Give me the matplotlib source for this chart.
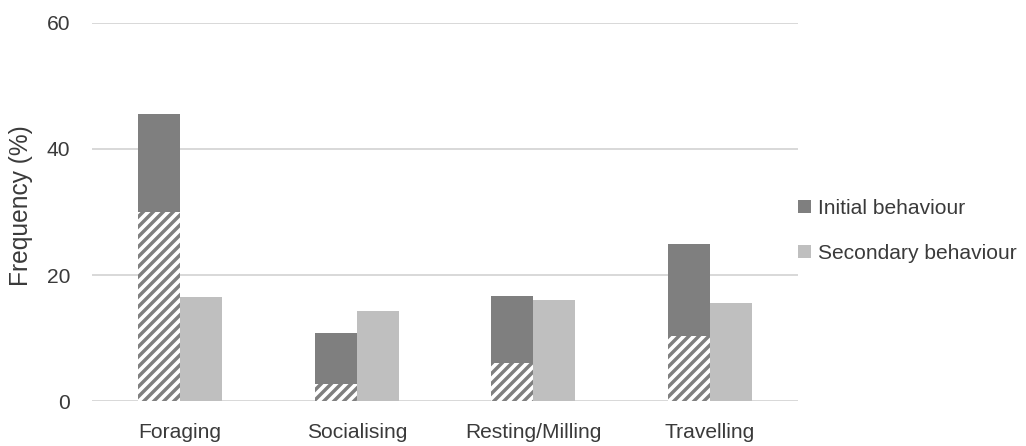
import matplotlib
matplotlib.use("Agg")
import matplotlib.pyplot as plt
from matplotlib.patches import Patch
import numpy as np

# Behaviour frequencies (%)
categories = ["Foraging", "Socialising", "Resting/Milling", "Travelling"]
initial = [45.6, 10.9, 16.7, 25.0]
initial_hatched = [30.0, 2.7, 6.1, 10.3]
secondary = [16.6, 14.3, 16.0, 15.5]
y_ticks = [0, 20, 40, 60]

DPI = 60
PX = 72.0 / DPI  # points per pixel

plt.rcParams["font.family"] = ["Liberation Sans", "DejaVu Sans"]
plt.rcParams["hatch.linewidth"] = 3.6 * PX

dark = "#7f7f7f"
light = "#bfbfbf"
grid = "#d9d9d9"
text_col = "#3a3a3a"

fig = plt.figure(figsize=(1026 / DPI, 446 / DPI), dpi=DPI)
ax = fig.add_axes([92 / 1026, 1 - 401.3 / 446, 706 / 1026, 378.6 / 446])

x = np.arange(len(categories))
w = 0.238

ax.bar(x - w / 2, initial, width=w, color=dark, linewidth=0, zorder=3)
ax.bar(x - w / 2, initial_hatched, width=w, color=dark, edgecolor="white",
       hatch="//", linewidth=0, zorder=4)
ax.bar(x + w / 2, secondary, width=w, color=light, linewidth=0, zorder=3)

ax.set_xlim(-0.5, len(categories) - 0.5)
ax.set_ylim(0, 60)
ax.set_yticks(y_ticks)
ax.set_xticks(x)
ax.set_xticklabels(categories)

for s in ax.spines.values():
    s.set_visible(False)
ax.yaxis.grid(True, color=grid, linewidth=2 * PX, zorder=0)
ax.set_axisbelow(True)

ax.tick_params(axis="both", length=0, labelsize=21 * PX, colors=text_col)
ax.tick_params(axis="y", pad=22 * PX)
ax.tick_params(axis="x", pad=22 * PX)

ax.set_ylabel("Frequency (%)", fontsize=24.5 * PX, color=text_col)
ax.yaxis.set_label_coords(-0.0836, 0.516)

handles = [Patch(facecolor=dark, edgecolor="none"),
           Patch(facecolor=light, edgecolor="none")]
leg = ax.legend(handles, ["Initial behaviour", "Secondary behaviour"],
                loc="center left", bbox_to_anchor=(1.0, 0.45),
                frameon=False, fontsize=21 * PX, borderpad=0, borderaxespad=0,
                handlelength=0.62, handleheight=0.62, handletextpad=0.33,
                labelspacing=1.24)
for t in leg.get_texts():
    t.set_color(text_col)

fig.savefig("out.png", dpi=DPI, facecolor="white")
